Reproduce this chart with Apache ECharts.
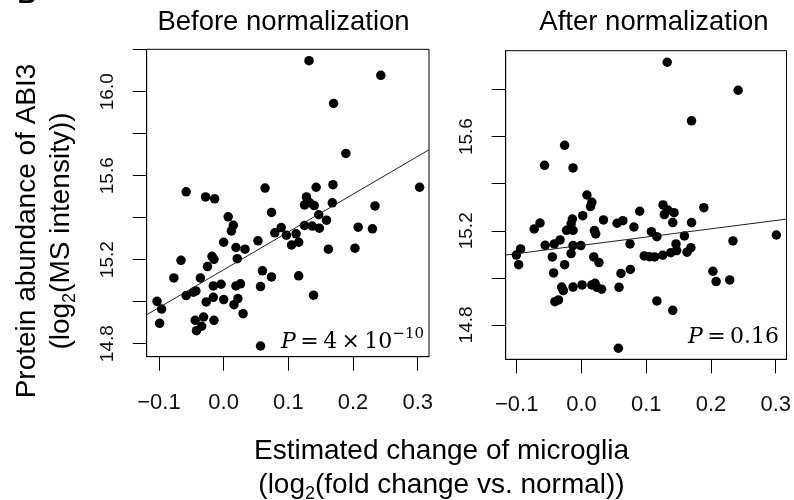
<!DOCTYPE html>
<html>
<head>
<meta charset="utf-8">
<script src="https://cdn.jsdelivr.net/npm/echarts@6/dist/echarts.min.js"></script>
<style>html,body{margin:0;padding:0;background:#fff;}#c{width:794px;height:500px;}</style>
</head>
<body>
<div id="c"></div>
<script>
// ---- data ----
const xTicks = [-0.1, 0.0, 0.1, 0.2, 0.3];
const xLabels = [-0.1, 0.0, 0.1, 0.2, 0.3];
const yTicksBefore = [14.8, 15.0, 15.2, 15.4, 15.6, 15.8, 16.0, 16.2];
const yLabelsBefore = [14.8, 15.2, 15.6, 16.0];
const yTicksAfter = [14.8, 15.0, 15.2, 15.4, 15.6, 15.8];
const yLabelsAfter = [14.8, 15.2, 15.6];

const beforeX = [0.132, 0.243, 0.170, 0.189, 0.303, -0.058, -0.028, -0.014, 0.064, 0.143,
  0.169, 0.128, 0.125, 0.133, 0.140, 0.168, 0.234, 0.074, 0.007, 0.015,
  0.012, 0.147, 0.159, 0.125, 0.137, 0.148, 0.089, 0.079, 0.097, 0.112,
  0.208, 0.230, 0.000, 0.019, 0.033, 0.021, 0.053, 0.105, 0.116, 0.162,
  0.203, -0.018, -0.015, -0.066, -0.025, -0.077, -0.036, 0.060, 0.074, 0.116,
  0.057, 0.139, -0.058, -0.047, -0.043, -0.016, -0.004, 0.019, 0.026, -0.016,
  0.000, -0.027, 0.022, 0.016, -0.103, -0.096, -0.099, 0.030, -0.044, -0.031,
  -0.042, -0.034, -0.015, 0.057];
const beforeY = [16.148, 16.078, 15.944, 15.706, 15.545, 15.523, 15.499, 15.490, 15.541, 15.545,
  15.557, 15.499, 15.461, 15.471, 15.458, 15.471, 15.456, 15.425, 15.404, 15.364,
  15.337, 15.414, 15.388, 15.363, 15.360, 15.350, 15.353, 15.328, 15.317, 15.323,
  15.355, 15.347, 15.283, 15.258, 15.250, 15.205, 15.290, 15.270, 15.283, 15.250,
  15.255, 15.216, 15.202, 15.197, 15.167, 15.113, 15.113, 15.147, 15.118, 15.123,
  15.072, 15.031, 15.029, 15.045, 15.051, 15.075, 15.083, 15.075, 15.085, 15.021,
  15.010, 14.999, 15.015, 14.986, 15.002, 14.965, 14.897, 14.943, 14.911, 14.927,
  14.862, 14.883, 14.911, 14.789];

const afterX = [0.1325, 0.242, 0.170, -0.026, -0.057, -0.013, 0.0085, 0.016, 0.014, 0.002,
  -0.014, -0.016, -0.023, -0.013, -0.064, -0.073, 0.034, 0.055, 0.064, 0.081,
  0.090, 0.126, 0.128, 0.1335, 0.143, 0.141, 0.170, 0.189, 0.020, 0.022,
  0.108, 0.1165, 0.159, 0.234, 0.301, -0.056, -0.042, -0.033, -0.013, -0.001,
  0.075, 0.146, -0.016, -0.045, -0.1005, -0.094, -0.097, -0.026, 0.019, 0.027,
  0.097, 0.105, 0.113, 0.1255, 0.138, 0.147, 0.163, 0.169, -0.043, 0.061,
  0.0755, -0.0305, -0.028, -0.013, 0.001, 0.016, 0.021, 0.024, 0.031, 0.058,
  -0.041, -0.0355, 0.1165, 0.141, 0.203, 0.208, 0.229, 0.057];
const afterY = [15.916, 15.797, 15.667, 15.563, 15.478, 15.467, 15.352, 15.321, 15.303, 15.264,
  15.250, 15.229, 15.202, 15.202, 15.233, 15.208, 15.246, 15.232, 15.243, 15.216,
  15.283, 15.310, 15.269, 15.288, 15.277, 15.235, 15.235, 15.298, 15.201, 15.187,
  15.196, 15.175, 15.178, 15.157, 15.182, 15.138, 15.144, 15.161, 15.137, 15.137,
  15.144, 15.144, 15.103, 15.089, 15.097, 15.123, 15.056, 15.056, 15.089, 15.065,
  15.093, 15.090, 15.089, 15.096, 15.107, 15.116, 15.109, 15.128, 15.021, 15.019,
  15.036, 14.961, 14.946, 14.961, 14.970, 14.970, 14.977, 14.960, 14.952, 14.960,
  14.899, 14.906, 14.902, 14.862, 15.028, 14.984, 14.991, 14.701];

// linear fits: [intercept, slope]
const fitBefore = [15.152, 1.80];
const fitAfter = [15.138, 0.352];

const titles = ['Before normalization', 'After normalization'];
const pLabels = ['4\u2009\u00d7\u200910', '0.16'];
const pExponent = ['\u221210', ''];

// ---- layout ----
const xRangeBefore = [-0.119, 0.3175];
const xRangeAfter = [-0.117, 0.3166];
const yRangeBefore = [14.738, 16.202];
const yRangeAfter = [14.654, 15.965];

const SANS = '"Liberation Sans", Arial, sans-serif';
const SERIF = '"DejaVu Serif", "Liberation Serif", serif';
const fmtNum = v => (Math.round(v * 10) / 10).toFixed(1).replace('-', '\u2212');

function pairs(xs, ys) { return xs.map((x, i) => [x, ys[i]]); }
function fitLine(fit, r) { return [[r[0], fit[0] + fit[1] * r[0]], [r[1], fit[0] + fit[1] * r[1]]]; }

function xAxis(idx, r) {
  return {
    type: 'value', gridIndex: idx, min: r[0], max: r[1],
    axisLine: { show: true, onZero: false, lineStyle: { color: '#000', width: 1 } },
    axisTick: { show: true, length: 14, inside: false, customValues: xTicks, lineStyle: { color: '#000', width: 1 } },
    axisLabel: { show: true, customValues: xLabels, margin: 35, formatter: fmtNum,
      fontFamily: SANS, fontSize: 22, color: '#111' },
    splitLine: { show: false }
  };
}
function yAxis(idx, r, ticks, labels) {
  return {
    type: 'value', gridIndex: idx, min: r[0], max: r[1],
    axisLine: { show: true, onZero: false, lineStyle: { color: '#000', width: 1 } },
    axisTick: { show: true, length: 14, inside: false, customValues: ticks, lineStyle: { color: '#000', width: 1 } },
    axisLabel: { show: true, customValues: labels, rotate: 90, margin: 29, formatter: fmtNum,
      fontFamily: SANS, fontSize: 19, color: '#111' },
    splitLine: { show: false }
  };
}

const chart = echarts.init(document.getElementById('c'), null, { renderer: 'canvas' });

const subRich = {
  a: { fontFamily: SANS, fontSize: 28, lineHeight: 36, color: '#000' },
  s: { fontFamily: SANS, fontSize: 18, lineHeight: 18, verticalAlign: 'bottom', color: '#000' }
};
const pRich = {
  p: { fontFamily: SERIF, fontStyle: 'italic', fontSize: 22, lineHeight: 30, color: '#000' },
  n: { fontFamily: SERIF, fontSize: 22, lineHeight: 30, color: '#000' },
  e: { fontFamily: SERIF, fontSize: 15, lineHeight: 16, verticalAlign: 'top', color: '#000' }
};

chart.setOption({
  animation: false,
  backgroundColor: '#fff',
  grid: [
    { left: 146.7, top: 49.3, width: 282.3, height: 307.4, show: true, borderColor: '#000', borderWidth: 1, containLabel: false },
    { left: 505.7, top: 50.7, width: 281.8, height: 308.6, show: true, borderColor: '#000', borderWidth: 1, containLabel: false }
  ],
  xAxis: [xAxis(0, xRangeBefore), xAxis(1, xRangeAfter)],
  yAxis: [yAxis(0, yRangeBefore, yTicksBefore, yLabelsBefore), yAxis(1, yRangeAfter, yTicksAfter, yLabelsAfter)],
  series: [
    { type: 'scatter', xAxisIndex: 0, yAxisIndex: 0, data: pairs(beforeX, beforeY), symbolSize: 9.5, itemStyle: { color: '#000', opacity: 1 }, silent: true },
    { type: 'line', xAxisIndex: 0, yAxisIndex: 0, data: fitLine(fitBefore, xRangeBefore), symbol: 'none', lineStyle: { color: '#222', width: 1 }, silent: true },
    { type: 'scatter', xAxisIndex: 1, yAxisIndex: 1, data: pairs(afterX, afterY), symbolSize: 9.5, itemStyle: { color: '#000', opacity: 1 }, silent: true },
    { type: 'line', xAxisIndex: 1, yAxisIndex: 1, data: fitLine(fitAfter, xRangeAfter), symbol: 'none', lineStyle: { color: '#222', width: 1 }, silent: true }
  ],
  graphic: [
    { type: 'text', x: 27, y: 9, style: { text: 'B', font: 'bold 26px ' + SANS, fill: '#000', align: 'center', verticalAlign: 'bottom' } },
    { type: 'text', x: 283.5, y: 22, style: { text: titles[0], font: '27.5px ' + SANS, fill: '#000', align: 'center', verticalAlign: 'middle' } },
    { type: 'text', x: 654, y: 22, style: { text: titles[1], font: '27.5px ' + SANS, fill: '#000', align: 'center', verticalAlign: 'middle' } },
    { type: 'text', x: 441.5, y: 451, style: { text: 'Estimated change of microglia', font: '28px ' + SANS, fill: '#000', align: 'center', verticalAlign: 'middle' } },
    { type: 'text', x: 441.5, y: 485, style: { text: '{a|(log}{s|2}{a|(fold change vs. normal))}', rich: subRich, align: 'center', verticalAlign: 'middle' } },
    { type: 'text', x: 27, y: 231, rotation: Math.PI / 2, style: { text: 'Protein abundance of ABI3', font: '28px ' + SANS, fill: '#000', align: 'center', verticalAlign: 'middle' } },
    { type: 'text', x: 61, y: 231, rotation: Math.PI / 2, style: { text: '{a|(log}{s|2}{a|(MS intensity))}', rich: subRich, align: 'center', verticalAlign: 'middle' } },
    { type: 'text', x: 424, y: 342, style: { text: '{p|P}{n|\u2009=\u2009' + pLabels[0] + '}{e|' + pExponent[0] + '}', rich: pRich, align: 'right', verticalAlign: 'middle' } },
    { type: 'text', x: 779, y: 337, style: { text: '{p|P}{n|\u2009=\u2009' + pLabels[1] + '}', rich: pRich, align: 'right', verticalAlign: 'middle' } }
  ]
});
</script>
</body>
</html>
